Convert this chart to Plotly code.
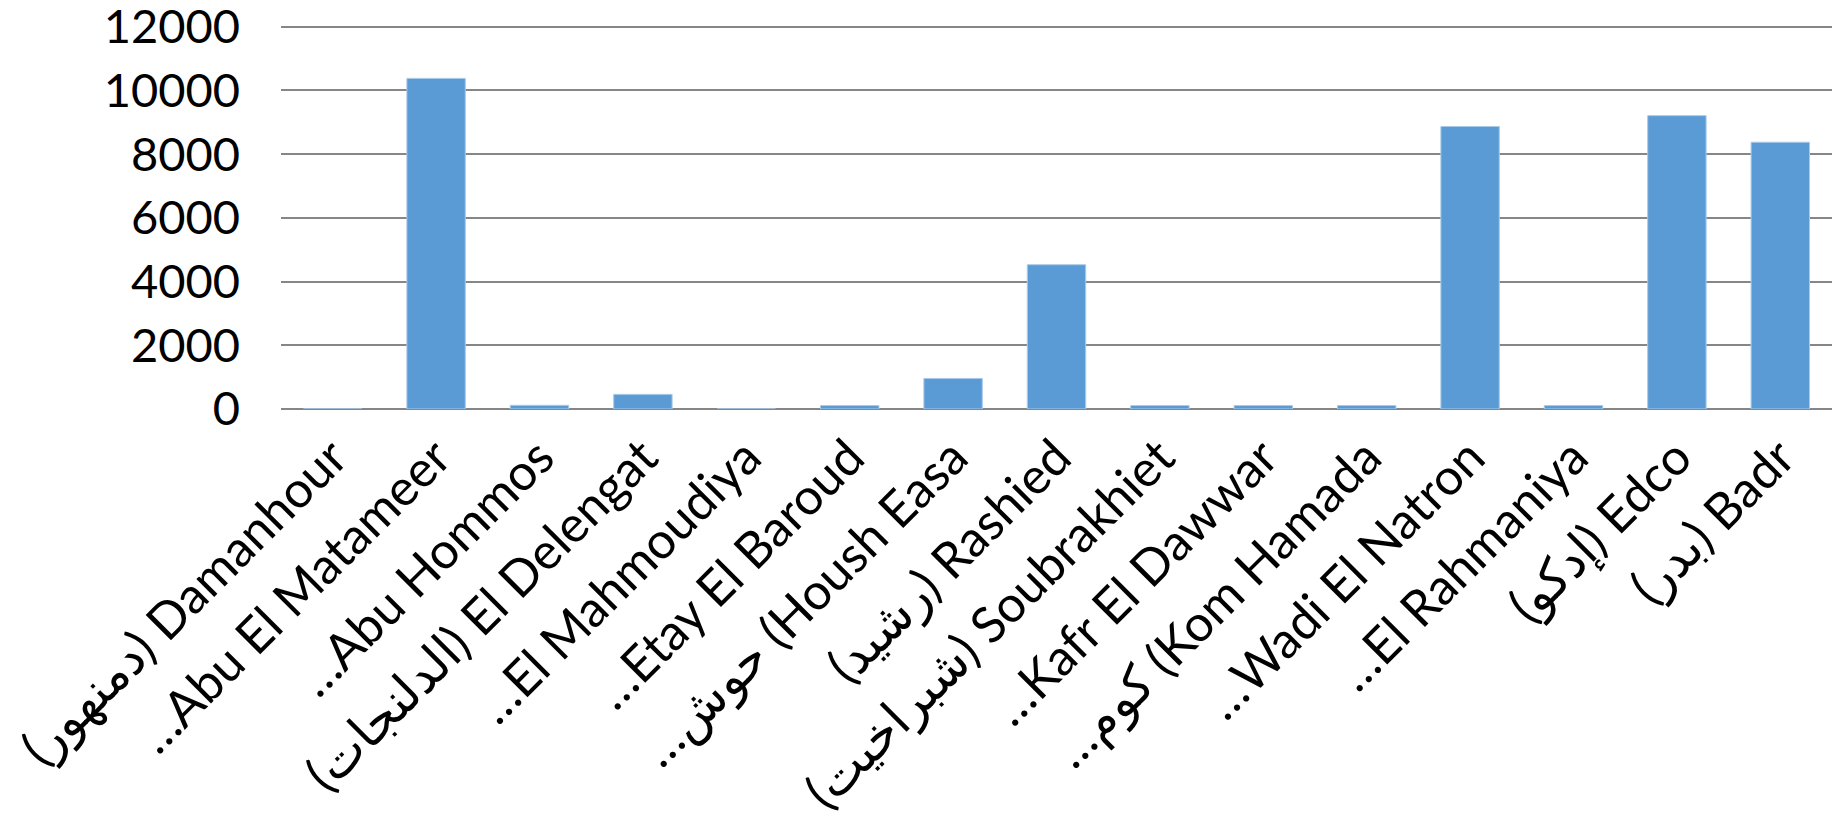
import plotly.graph_objects as go

# Centre names as printed under each bar
centres = [
    "(دمنهور) Damanhour",
    "…Abu El Matameer",
    "…Abu Hommos",
    "(الدلنجات) El Delengat",
    "…El Mahmoudiya",
    "…Etay El Baroud",
    "…حوش (Housh Easa",
    "(رشيد) Rashied",
    "(شبراخيت) Soubrakhiet",
    "…Kafr El Dawwar",
    "…كوم (Kom Hamada",
    "…Wadi El Natron",
    "…El Rahmaniya",
    "(إدكو) Edco",
    "(بدر) Badr",
]

# Value per centre
values = [0, 10380, 115, 460, 0, 110, 960, 4530, 110, 110, 110, 8870, 110, 9210, 8375]

y_ticks = [0, 2000, 4000, 6000, 8000, 10000, 12000]

BAR_COLOR = "#5B9BD5"
GRID_COLOR = "#868686"
FONT = "Lato, 'DejaVu Sans', sans-serif"

fig = go.Figure(
    go.Bar(
        x=centres,
        y=values,
        marker=dict(color=BAR_COLOR, line=dict(color="#A9CBEA", width=1)),
    )
)

fig.update_layout(
    width=1832,
    height=827,
    margin=dict(l=281, r=0, t=22, b=418, autoexpand=False),
    paper_bgcolor="white",
    plot_bgcolor="white",
    bargap=0.435,
    showlegend=False,
    font=dict(family=FONT, size=48, color="black"),
)

fig.update_xaxes(
    type="category",
    tickangle=-45,
    showgrid=False,
    showline=False,
    ticks="",
    ticklabelstandoff=8,
    ticklabeloverflow="allow",
    automargin=False,
    tickfont=dict(family=FONT, size=50, color="black"),
)

fig.update_yaxes(
    range=[0, 12150],
    tickvals=y_ticks,
    ticktext=[str(v) for v in y_ticks],
    showgrid=True,
    gridcolor=GRID_COLOR,
    gridwidth=2,
    zeroline=True,
    zerolinecolor=GRID_COLOR,
    zerolinewidth=2,
    showline=False,
    ticks="",
    ticklabelstandoff=40,
    ticklabeloverflow="allow",
    automargin=False,
    tickfont=dict(family=FONT, size=47, color="black"),
)

fig.write_html("out.html")
